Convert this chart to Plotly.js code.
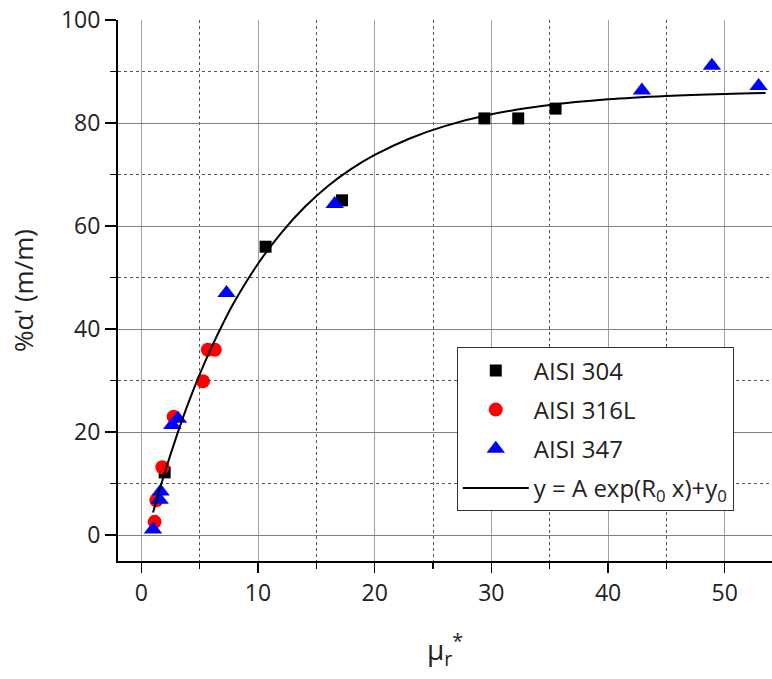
<!DOCTYPE html>
<html>
<head>
<meta charset="utf-8">
<script src="https://cdn.plot.ly/plotly-3.0.1.min.js"></script>
<style>html,body{margin:0;padding:0;background:#fff;}#chart{width:772px;height:679px;}</style>
</head>
<body>
<div id="chart"></div>
<script>
// AISI 304 (black squares)
var x304 = [2.0, 10.65, 17.2, 29.4, 32.3, 35.5];
var y304 = [12.2, 56.0, 65.0, 80.9, 80.9, 82.8];
// AISI 316L (red circles)
var x316 = [1.14, 1.29, 1.8, 2.77, 5.28, 5.7, 6.3];
var y316 = [2.6, 6.8, 13.2, 23.0, 29.9, 36.0, 36.0];
// AISI 347 (blue triangles)
var x347 = [1.0, 1.57, 1.65, 2.65, 3.14, 7.3, 16.57, 42.9, 48.9, 52.9];
var y347 = [1.1, 6.9, 8.5, 21.4, 22.6, 47.0, 64.3, 86.3, 91.1, 87.2];
// Fitted curve
var xFit = [1, 2, 3, 4, 5, 6, 7, 8, 10, 12, 14, 16, 18, 20, 23, 26, 30, 35, 40, 45, 50, 53.5];
var yFit = [4.4, 12.1, 19.1, 25.5, 31.2, 36.4, 41.1, 45.4, 52.7, 58.7, 63.7, 67.8, 71.1, 73.8, 77.0, 79.4, 81.7, 83.5, 84.6, 85.25, 85.66, 85.85];

var FONT = "'Open Sans', 'DejaVu Sans', sans-serif";

var traces = [
  {x: x304, y: y304, type: 'scatter', mode: 'markers', name: 'AISI 304', legendgroup: 'a',
   marker: {symbol: 'square', size: 12, color: '#000000'}},
  {x: x316, y: y316, type: 'scatter', mode: 'markers', name: 'AISI 316L', legendgroup: 'b',
   marker: {symbol: 'circle', size: 14, color: '#ff0000'}},
  {x: x347, y: y347, type: 'scatter', mode: 'markers', name: 'AISI 347', legendgroup: 'c',
   marker: {symbol: 'triangle-up', size: 16, color: '#0000ff'}},
  {x: xFit, y: yFit, type: 'scatter', mode: 'lines', name: 'y = A exp(R<sub>0</sub> x)+y<sub>0</sub>', legendgroup: 'd',
   line: {color: '#000000', width: 2, shape: 'spline', smoothing: 1}}
];

var layout = {
  width: 772, height: 679,
  margin: {l: 118, r: 0, t: 20, b: 118},
  paper_bgcolor: '#ffffff', plot_bgcolor: '#ffffff',
  font: {family: FONT, color: '#222', size: 23},
  showlegend: true,
  legend: {
    x: 0.518, y: 0.395, xanchor: 'left', yanchor: 'top',
    bgcolor: '#ffffff', bordercolor: '#333', borderwidth: 1,
    font: {family: FONT, size: 24, color: '#222'},
    tracegroupgap: 5, itemwidth: 66
  },
  xaxis: {
    range: [-2, 54.05], dtick: 10, tick0: 0,
    showline: true, linecolor: '#000', linewidth: 2, mirror: false,
    ticks: 'outside', ticklen: 10, tickwidth: 1.5, tickcolor: '#000',
    showgrid: true, gridcolor: '#a0a0a0', gridwidth: 1, zeroline: false,
    tickfont: {family: FONT, size: 23, color: '#222'},
    minor: {dtick: 5, tick0: 0, showgrid: true, gridcolor: '#555', griddash: 'dot', gridwidth: 1,
            ticks: 'outside', ticklen: 6, tickcolor: '#000', tickwidth: 1.5},
    title: {text: 'μ<sub>r</sub><sup>*</sup>', font: {family: FONT, size: 28, color: '#222'}, standoff: 34}
  },
  xaxis2: {
    overlaying: 'x', side: 'top', range: [-2, 54.05], dtick: 10, tick0: 0,
    showline: true, linecolor: '#000', linewidth: 2,
    ticks: 'inside', ticklen: 10, tickwidth: 1.5, tickcolor: '#000',
    showticklabels: false, showgrid: false, zeroline: false
  },
  yaxis: {
    range: [-5, 100], dtick: 20, tick0: 0,
    showline: true, linecolor: '#000', linewidth: 2, mirror: false,
    ticks: 'outside', ticklen: 11, tickwidth: 1.5, tickcolor: '#000',
    showgrid: true, gridcolor: '#808080', gridwidth: 1, zeroline: false,
    tickfont: {family: FONT, size: 23, color: '#222'},
    minor: {dtick: 10, tick0: 0, showgrid: true, gridcolor: '#555', griddash: 'dot', gridwidth: 1,
            ticks: 'outside', ticklen: 6, tickcolor: '#000', tickwidth: 1.5},
    title: {text: "%α' (m/m)", font: {family: FONT, size: 26, color: '#222'}, standoff: 20}
  }
};

Plotly.newPlot('chart', traces, layout, {displayModeBar: false, staticPlot: true});
</script>
</body>
</html>
